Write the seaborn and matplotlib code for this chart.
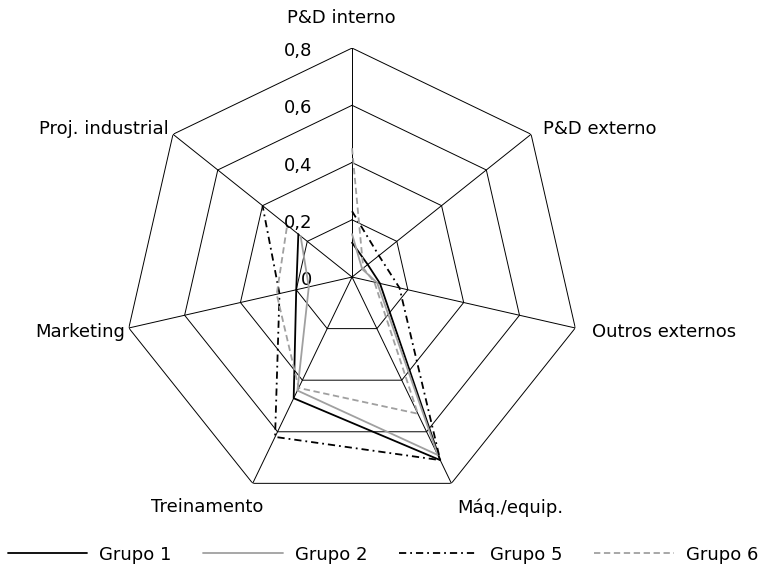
import numpy as np
import matplotlib
matplotlib.use("Agg")
import matplotlib.pyplot as plt
import seaborn as sns

# Categories (clockwise from the top)
categories = ["P&D interno", "P&D externo", "Outros externos", "Máq./equip.",
              "Treinamento", "Marketing", "Proj. industrial"]

# Values
grupo1 = [0.12, 0.07, 0.10, 0.71, 0.47, 0.20, 0.24]
grupo2 = [0.15, 0.045, 0.09, 0.69, 0.44, 0.155, 0.23]
grupo5 = [0.23, 0.12, 0.17, 0.71, 0.62, 0.26, 0.40]
grupo6 = [0.45, 0.05, 0.08, 0.53, 0.43, 0.27, 0.29]

ring_values = [0.2, 0.4, 0.6, 0.8]
ring_labels = ["0", "0,2", "0,4", "0,6", "0,8"]

sns.set_style("white")
plt.rcParams["font.family"] = ["DejaVu Sans"]
plt.rcParams["font.size"] = 13
plt.rcParams["text.color"] = "black"

n = len(categories)
theta = np.linspace(0, 2 * np.pi, n, endpoint=False)
theta_closed = np.append(theta, theta[0])

fig = plt.figure(figsize=(7.66, 5.64), dpi=100)
ax = fig.add_axes([0.1606, 0.1028, 0.598, 0.812], projection="polar")
ax.set_theta_zero_location("N")
ax.set_theta_direction(-1)
ax.set_ylim(0, 0.8)
ax.grid(False)
ax.spines["polar"].set_visible(False)
ax.set_xticks([])
ax.set_yticks([])
ax.patch.set_alpha(0)

# heptagon grid and spokes
for rv in ring_values:
    ax.plot(theta_closed, [rv] * (n + 1), color="black", lw=0.7, zorder=1)
for t in theta:
    ax.plot([t, t], [0, 0.8], color="black", lw=0.7, zorder=1)

# radial labels left of the top spoke
for rv, lab in zip([0] + ring_values, ring_labels):
    ax.annotate(lab, xy=(0, rv), xytext=(-40, -3), textcoords="offset pixels",
                ha="right", va="center", color="black")

# category labels
offsets = [(-11, 30, "center"), (12, 5, "left"), (17, -4, "left"),
           (6, -24, "left"), (11, -24, "right"), (-4, -4, "right"),
           (-4, 5, "right")]
for t, lab, (dx, dy, ha) in zip(theta, categories, offsets):
    ax.annotate(lab, xy=(t, 0.8), xytext=(dx, dy), textcoords="offset pixels",
                ha=ha, va="center", color="black")

series = [
    ("Grupo 1", grupo1, "black", "-"),
    ("Grupo 2", grupo2, "#a0a0a0", "-"),
    ("Grupo 5", grupo5, "black", (0, (4, 2.2, 1, 2.2))),
    ("Grupo 6", grupo6, "#a0a0a0", (0, (3.5, 2))),
]
for name, vals, col, ls in series:
    sns.lineplot(x=theta_closed, y=np.append(vals, vals[0]), ax=ax, sort=False,
                 color=col, linestyle=ls, lw=1.3, label=name, zorder=3)

ax.set_xlabel("")
ax.set_ylabel("")
handles, labels = ax.get_legend_handles_labels()
if ax.get_legend() is not None:
    ax.get_legend().remove()
leg = fig.legend(handles, labels, loc="lower center", ncol=4, frameon=False,
                 bbox_to_anchor=(0.5, -0.028), handlelength=4.4,
                 handletextpad=0.66, columnspacing=1.75)
for txt in leg.get_texts():
    txt.set_color("black")

fig.savefig("out.png", dpi=100)
